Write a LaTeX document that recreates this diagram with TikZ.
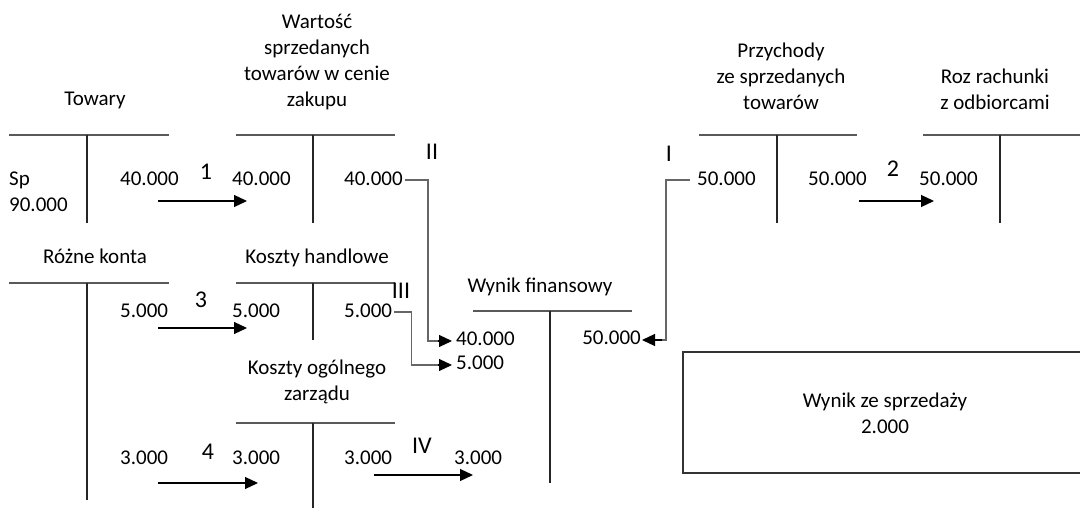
\documentclass[tikz,border=0pt]{standalone}
\usepackage{fontspec}
\setmainfont{Carlito}
\usetikzlibrary{arrows.meta}

\tikzset{
  base font/.style={font=\fontsize{21}{26}\selectfont, text=black, inner sep=0pt},
  txt/.style={base font, text height=0.66em, text depth=0.18em},
  title/.style={base font, align=center},
  num/.style={txt, anchor=west},
  oplabel/.style={txt, font=\fontsize{24}{28}\selectfont},
  tline/.style={draw=black!65, line width=1.3pt},
  tvert/.style={draw=black!85, line width=1.3pt},
  conn/.style={draw=black!60, line width=1.2pt},
  flow/.style={draw=black, line width=1.2pt, -{Triangle[length=13pt,width=12pt]}},
  box/.style={draw=black!80, line width=1.3pt}
}

\begin{document}
\begin{tikzpicture}[x=1pt,y=-1pt]
\useasboundingbox (0,0) rectangle (1080,508);
\clip (0,0) rectangle (1080,508);

% ---- T-account: Towary
\node[txt] (tTow) at (95,103) {Towary};
\draw[tline] (9,135) -- (169,135);
\draw[tvert] (87,135) -- (87,223);
\node[num] (towSp) at (9,183) {Sp};
\node[num] (tow90) at (9,209) {90.000};
\node[num] (tow40) at (120,183) {40.000};

% ---- T-account: Wartość sprzedanych towarów w cenie zakupu
\node[title] (tWar) at (317,62) {Wartość\\sprzedanych\\towarów w cenie\\zakupu};
\draw[tline] (236,135) -- (395,135);
\draw[tvert] (313,135) -- (313,223);
\node[num] (war40l) at (232,183) {40.000};
\node[num] (war40r) at (344,183) {40.000};

% ---- T-account: Przychody ze sprzedanych towarów
\node[title] (tPrz) at (781,76) {Przychody\\ze sprzedanych\\towarów};
\draw[tline] (699,135) -- (857,135);
\draw[tvert] (777,135) -- (777,223);
\node[num] (prz50l) at (697,183) {50.000};
\node[num] (prz50r) at (808,183) {50.000};

% ---- T-account: Rozrachunki z odbiorcami
\node[title] (tRoz) at (995,89) {Roz rachunki\\z odbiorcami};
\draw[tline] (923,135) -- (1085,135);
\draw[tvert] (1000,135) -- (1000,223);
\node[num] (roz50) at (919,183) {50.000};

% ---- T-account: Różne konta
\node[txt] (tRk) at (95,261) {Różne konta};
\draw[tline] (9,283) -- (169,283);
\draw[tvert] (87,283) -- (87,500);
\node[num] (rk5) at (120,315) {5.000};
\node[num] (rk3) at (120,462) {3.000};

% ---- T-account: Koszty handlowe
\node[txt] (tKh) at (317,261) {Koszty handlowe};
\draw[tline] (236,283) -- (395,283);
\draw[tvert] (313,283) -- (313,340);
\node[num] (kh5l) at (232,315) {5.000};
\node[num] (kh5r) at (344,315) {5.000};

% ---- T-account: Koszty ogólnego zarządu
\node[title] (tKoz) at (317,382) {Koszty ogólnego\\zarządu};
\draw[tline] (236,423) -- (395,423);
\draw[tvert] (313,423) -- (313,510);
\node[num] (koz3l) at (232,462) {3.000};
\node[num] (koz3r) at (344,462) {3.000};

% ---- T-account: Wynik finansowy
\node[txt] (tWf) at (540,290) {Wynik finansowy};
\draw[tline] (473,311) -- (632,311);
\draw[tvert] (550,311) -- (550,483);
\node[num] (wf40) at (456,343) {40.000};
\node[num] (wf5) at (456,367) {5.000};
\node[num] (wf3) at (454,462) {3.000};
\node[txt, anchor=east] (wf50) at (641,342) {50.000};

% ---- result box
\draw[box] (683,352) rectangle (1090,473);
\node[title] (wzs) at (885,413) {Wynik ze sprzedaży\\2.000};

% ---- operation numbers
\node[oplabel] (op1) at (206,177) {1};
\node[oplabel] (op2) at (893,174) {2};
\node[oplabel] (op3) at (201,305) {3};
\node[oplabel] (op4) at (208,457) {4};
\node[oplabel] (opI) at (669,159) {I};
\node[oplabel] (opII) at (432,157) {II};
\node[oplabel] (opIII) at (401,296) {III};
\node[oplabel] (opIV) at (422,451) {IV};

% ---- straight postings
\coordinate (a1s) at (158,201); \coordinate (a1e) at (247,201);
\coordinate (a2s) at (859,201); \coordinate (a2e) at (934,201);
\coordinate (a3s) at (158,328); \coordinate (a3e) at (247,328);
\coordinate (a4s) at (158,483); \coordinate (a4e) at (258,483);
\coordinate (aIVs) at (374,475); \coordinate (aIVe) at (473,475);
\draw[flow] (a1s) -- (a1e);
\draw[flow] (a2s) -- (a2e);
\draw[flow] (a3s) -- (a3e);
\draw[flow] (a4s) -- (a4e);
\draw[flow] (aIVs) -- (aIVe);

% ---- closing postings to Wynik finansowy
\draw[conn] ([xshift=2pt,yshift=3pt]war40r.east) -- ++(23,0) |- ([xshift=-17pt,yshift=2pt]wf40.west);
\draw[flow] ([xshift=-18pt,yshift=2pt]wf40.west) -- ([xshift=-4pt,yshift=2pt]wf40.west);
\draw[conn] ([xshift=2pt,yshift=3pt]kh5r.east) -- ++(17,0) |- ([xshift=-17pt,yshift=2pt]wf5.west);
\draw[flow] ([xshift=-18pt,yshift=2pt]wf5.west) -- ([xshift=-4pt,yshift=2pt]wf5.west);
\draw[conn] ([xshift=-7pt,yshift=3pt]prz50l.west) -- ++(-24,0) |- ([xshift=20pt,yshift=2pt]wf50.east);
\draw[flow] ([xshift=21pt,yshift=2pt]wf50.east) -- ([xshift=1pt,yshift=2pt]wf50.east);
\end{tikzpicture}
\end{document}
